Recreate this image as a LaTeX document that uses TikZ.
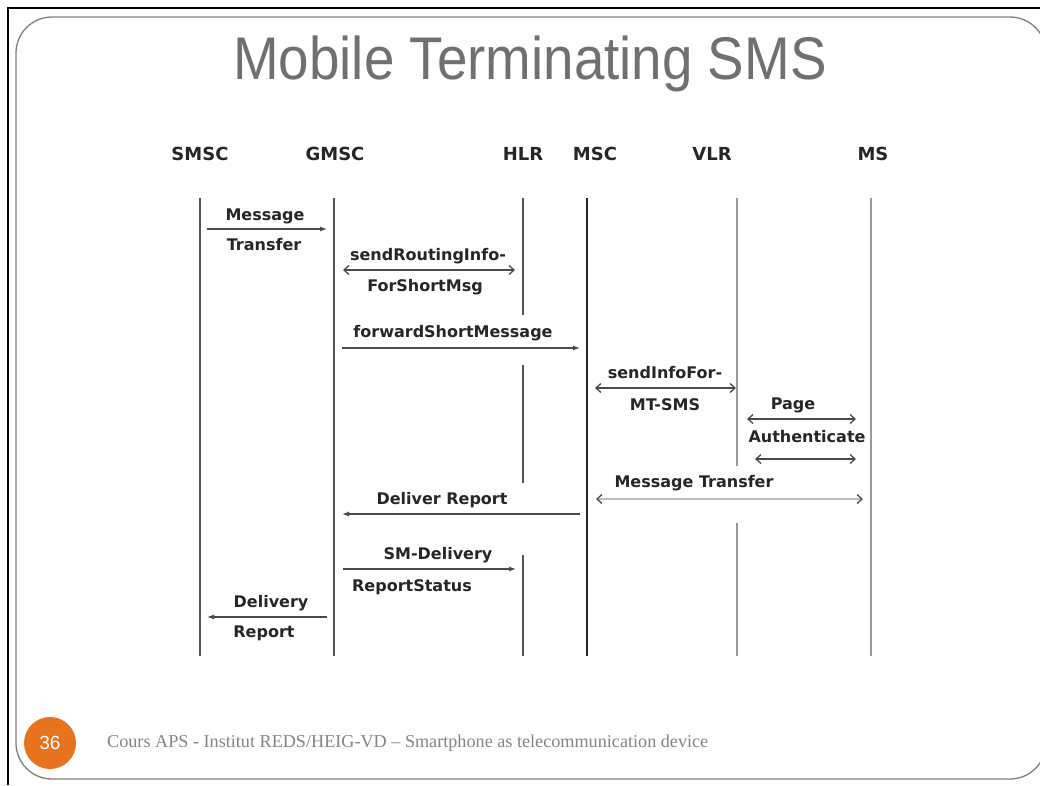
\documentclass[tikz,border=0pt]{standalone}
\usepackage{fontspec}
\usepackage{graphicx}
\usetikzlibrary{arrows.meta}
\newfontfamily\diagfont{DejaVu Sans}
\newfontfamily\titlefont{Liberation Sans}
\newfontfamily\footfont{Liberation Serif}
\definecolor{titlegray}{HTML}{707070}
\definecolor{framegray}{HTML}{808080}
\definecolor{inkgray}{HTML}{262626}
\definecolor{linedark}{HTML}{555555}
\definecolor{linelight}{HTML}{9A9A9A}
\definecolor{msgline}{HTML}{4A4A4A}
\definecolor{msglight}{HTML}{BDBDBD}
\definecolor{footgray}{HTML}{858585}
\definecolor{badge}{HTML}{E8731F}
\begin{document}
\begin{tikzpicture}[x=1pt,y=-1pt,
  head/.style={font=\diagfont\bfseries\fontsize{18}{20}\selectfont, text=inkgray, inner sep=0pt},
  lbl/.style={font=\diagfont\bfseries\fontsize{16}{18}\selectfont, text=inkgray, inner sep=0pt},
  life/.style={line width=2pt, linedark},
  lifelight/.style={line width=2pt, linelight},
  lifeblack/.style={line width=2pt, black!85},
  onemsg/.style={line width=1.2pt, msgline, -{Latex[length=7pt,width=5pt]}},
  barb/.style={Straight Barb[length=5pt,width=9pt,line width=1.3pt,color=msgline]},
  twomsg/.style={line width=1.2pt, msgline, {Straight Barb[length=5pt,width=9pt,line width=1.3pt]}-{Straight Barb[length=5pt,width=9pt,line width=1.3pt]}},
  widemsg/.style={line width=2.4pt, msglight,
    {Straight Barb[length=5pt,width=9pt,line width=1.3pt,color=msgline]}-{Straight Barb[length=5pt,width=9pt,line width=1.3pt,color=msgline]}},
]
\useasboundingbox (0,0) rectangle (1040,785);
\fill[white] (0,0) rectangle (1040,785);

% slide frame
\draw[line width=2pt, black] (8,785) -- (8,8) -- (1040,8);
\draw[framegray, line width=1.3pt, rounded corners=36pt] (16,17) rectangle (1046,779);

% title
\node[text=titlegray, inner sep=0pt] (title) at (530,64)
  {\scalebox{1}[1.1]{\resizebox{593pt}{!}{\titlefont Mobile Terminating SMS}}};

% entity headers
\node[head] (smsc) at (200,154) {SMSC};
\node[head] (gmsc) at (335,154) {GMSC};
\node[head] (hlr)  at (523,154) {HLR};
\node[head] (msc)  at (595,154) {MSC};
\node[head] (vlr)  at (712,154) {VLR};
\node[head] (ms)   at (873,154) {MS};

% lifelines
\coordinate (smscT) at (200,198); \coordinate (smscB) at (200,656);
\coordinate (gmscT) at (334,198); \coordinate (gmscB) at (334,656);
\coordinate (mscT)  at (587,198); \coordinate (mscB)  at (587,656);
\coordinate (msT)   at (871,198); \coordinate (msB)   at (871,656);
\coordinate (hlrA) at (523,198); \coordinate (hlrB) at (523,315);
\coordinate (hlrC) at (523,365); \coordinate (hlrD) at (523,483);
\coordinate (hlrE) at (523,555); \coordinate (hlrF) at (523,656);
\coordinate (vlrA) at (737,198); \coordinate (vlrB) at (737,466);
\coordinate (vlrC) at (737,523); \coordinate (vlrD) at (737,656);

\draw[life] (smscT) -- (smscB);
\draw[life] (gmscT) -- (gmscB);
\draw[lifeblack] (mscT) -- (mscB);
\draw[lifelight] (msT) -- (msB);
\draw[life] (hlrA) -- (hlrB);
\draw[life] (hlrC) -- (hlrD);
\draw[life] (hlrE) -- (hlrF);
\draw[lifelight] (vlrA) -- (vlrB);
\draw[lifelight] (vlrC) -- (vlrD);

% message end points
\coordinate (m1a) at (207,229); \coordinate (m1b) at (327,229);
\coordinate (m2a) at (343,270); \coordinate (m2b) at (515,270);
\coordinate (m3a) at (342,348); \coordinate (m3b) at (580,348);
\coordinate (m4a) at (595,388); \coordinate (m4b) at (736,388);
\coordinate (m5a) at (747,419); \coordinate (m5b) at (856,419);
\coordinate (m6a) at (755,459); \coordinate (m6b) at (856,459);
\coordinate (m7a) at (596,499); \coordinate (m7b) at (863,499);
\coordinate (m8a) at (580,514); \coordinate (m8b) at (342,514);
\coordinate (m9a) at (343,569); \coordinate (m9b) at (516,569);
\coordinate (m10a) at (327,617); \coordinate (m10b) at (207,617);

% messages
\draw[onemsg] (m1a) -- (m1b);
\draw[twomsg] (m2a) -- (m2b);
\draw[onemsg] (m3a) -- (m3b);
\draw[twomsg] (m4a) -- (m4b);
\draw[twomsg] (m5a) -- (m5b);
\draw[twomsg] (m6a) -- (m6b);
\draw[widemsg] (m7a) -- (m7b);
\draw[onemsg] (m8a) -- (m8b);
\draw[onemsg] (m9a) -- (m9b);
\draw[onemsg] (m10a) -- (m10b);

% message labels
\node[lbl] (l1a) at (265,216) {Message};
\node[lbl] (l1b) at (264,245) {Transfer};
\node[lbl] (l2a) at (428,256) {sendRoutingInfo-};
\node[lbl] (l2b) at (425,287) {ForShortMsg};
\node[lbl] (l3)  at (453,333) {forwardShortMessage};
\node[lbl] (l4a) at (665,373) {sendInfoFor-};
\node[lbl] (l4b) at (665,405) {MT-SMS};
\node[lbl] (l5)  at (793,405) {Page};
\node[lbl] (l6)  at (807,437) {Authenticate};
\node[lbl] (l7)  at (694,483) {Message Transfer};
\node[lbl] (l8)  at (442,500) {Deliver Report};
\node[lbl] (l9a) at (438,555) {SM-Delivery};
\node[lbl] (l9b) at (412,587) {ReportStatus};
\node[lbl] (l10a) at (271,603) {Delivery};
\node[lbl] (l10b) at (264,633) {Report};

% footer
\node[circle, fill=badge, minimum size=52pt, inner sep=0pt, text=white,
  font=\titlefont\fontsize{19}{22}\selectfont] (page) at (50,743) {36};
\node[anchor=west, text=footgray, inner sep=0pt] (foot) at (107,743)
  {\resizebox{601pt}{!}{\footfont Cours APS - Institut REDS/HEIG-VD – Smartphone as telecommunication device}};
\end{tikzpicture}
\end{document}
